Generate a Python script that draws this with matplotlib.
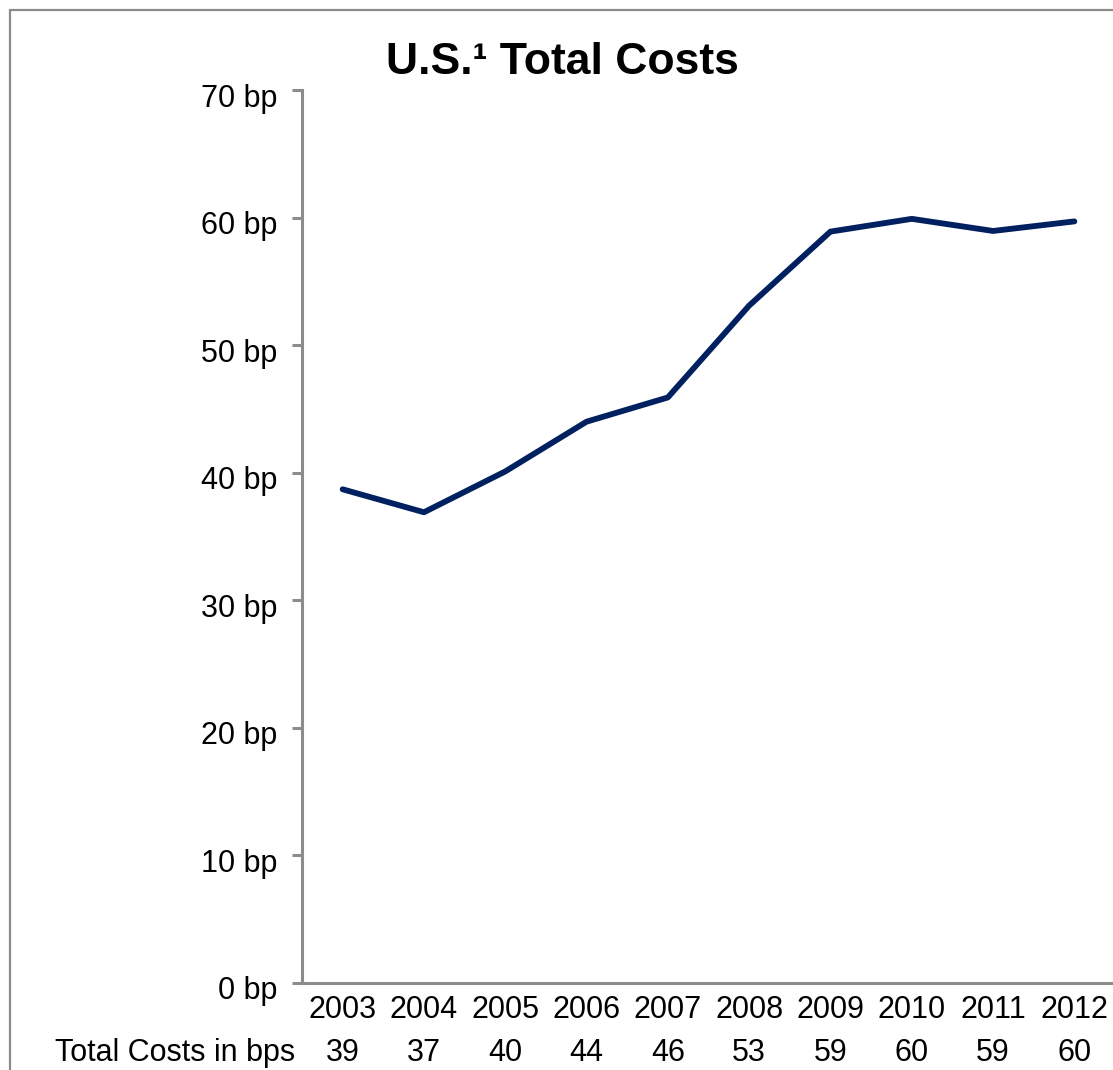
import matplotlib.pyplot as plt
from matplotlib.patches import Rectangle
from matplotlib.transforms import blended_transform_factory, ScaledTranslation

plt.rcParams['font.family'] = ['Liberation Sans', 'DejaVu Sans']

years = ["2003", "2004", "2005", "2006", "2007", "2008", "2009", "2010", "2011", "2012"]
costs = [38.7, 36.9, 40.1, 44.0, 45.9, 53.1, 58.9, 59.9, 58.95, 59.7]
table_labels = ["39", "37", "40", "44", "46", "53", "59", "60", "59", "60"]
y_ticks = [0, 10, 20, 30, 40, 50, 60, 70]

grey = "#8c8c8c"
navy = "#002060"

fig = plt.figure(figsize=(11.13, 10.70), dpi=100)
ax = fig.add_axes([302 / 1113, 87 / 1070, 813 / 1113, 893 / 1070])

x = list(range(len(years)))
ax.plot(x, costs, color=navy, lw=4.2, solid_capstyle="round", solid_joinstyle="round")

ax.set_xlim(-0.5, len(years) - 0.5)
ax.set_ylim(0, 70)
ax.set_yticks(y_ticks)
ax.set_yticklabels([f"{v} bp" for v in y_ticks], fontsize=22)
ax.set_xticks(x)
ax.set_xticklabels(years, fontsize=22)
ax.tick_params(axis="x", length=0, pad=9)
ax.tick_params(axis="y", length=7, width=2.2, color=grey, pad=11, direction="out")

# labels sit a bit below their ticks in the original
shift = ScaledTranslation(0, -5 / 100, fig.dpi_scale_trans)
for lbl in ax.get_yticklabels():
    lbl.set_transform(lbl.get_transform() + shift)

for s in ["top", "right"]:
    ax.spines[s].set_visible(False)
for s in ["left", "bottom"]:
    ax.spines[s].set_color(grey)
    ax.spines[s].set_linewidth(2.2)

# data table row under the axis
trans = blended_transform_factory(ax.transData, ax.transAxes)
row_y = -70 / 893
for xi, lab in zip(x, table_labels):
    ax.text(xi, row_y, lab, transform=trans, ha="center", va="center", fontsize=22)
ax.text(295 / 1113, 1 - 1053 / 1070, "Total Costs in bps", transform=fig.transFigure,
        ha="right", va="center", fontsize=22)

fig.text(562 / 1113, 1 - 62 / 1070, "U.S.¹ Total Costs", ha="center", va="center",
         fontsize=32, fontweight="bold")

# outer frame
fig.patches.append(Rectangle((10 / 1113, -0.05), 1.1, 1 - 10 / 1070 + 0.05,
                             transform=fig.transFigure, fill=False, edgecolor=grey, lw=1.6))

fig.savefig("out.png", dpi=100)
